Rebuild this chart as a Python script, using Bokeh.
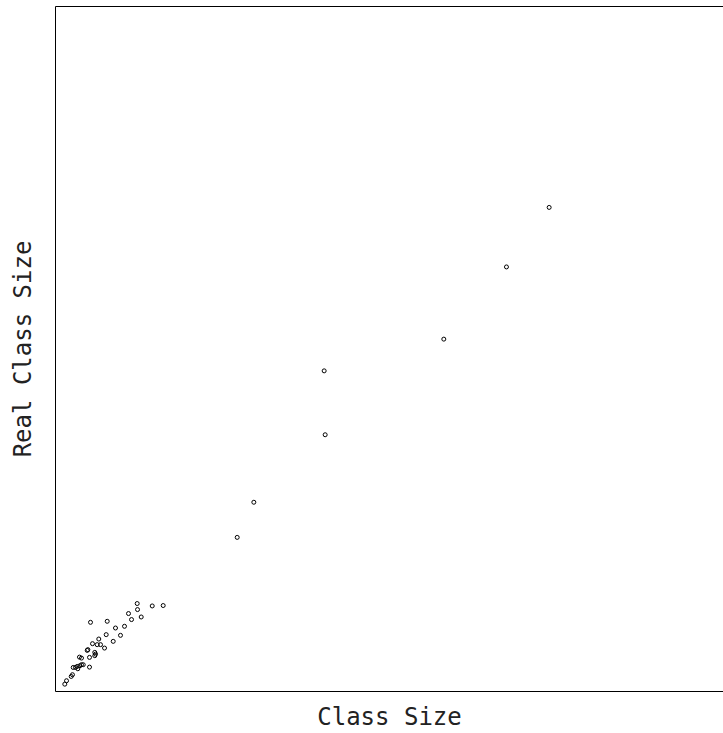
from bokeh.plotting import figure
from bokeh.models import Range1d, LinearAxis, FixedTicker
from bokeh.embed import file_html
from bokeh.resources import INLINE

# Data (arbitrary units, 0-100 frame scale)
class_size = [1.39, 1.65, 2.35, 2.54, 2.65, 2.99, 3.25, 3.34, 3.64, 3.89,
              4.15, 5.09, 3.59, 3.89, 4.75, 4.84, 5.09, 5.88, 5.88, 5.99,
              5.54, 6.24, 6.74, 6.48, 7.34, 7.59, 5.24, 7.74, 8.64, 8.98,
              9.73, 10.33, 10.93, 11.38, 12.23, 12.28, 12.83, 14.48, 16.12,
              27.2, 29.69, 40.22, 40.37, 58.13, 67.51, 73.9]
real_class_size = [1.07, 1.57, 2.20, 2.45, 3.51, 3.51, 3.66, 3.32, 3.76, 3.91,
                   3.91, 3.56, 5.02, 4.88, 6.00, 6.11, 4.98, 5.71, 5.23, 5.46,
                   6.98, 6.84, 6.84, 7.66, 6.34, 8.30, 10.10, 10.25, 7.32, 9.27,
                   8.20, 9.52, 11.38, 10.50, 12.84, 11.96, 10.88, 12.49, 12.55,
                   22.5, 27.63, 46.81, 37.48, 51.44, 61.98, 70.67]

x_label = "Class Size"
y_label = "Real Class Size"
x_max = 100
y_max = 100

p = figure(frame_width=668, frame_height=685,
           output_backend="svg", toolbar_location=None,
           x_range=Range1d(0, x_max), y_range=Range1d(0, y_max),
           min_border_left=55, min_border_right=0,
           min_border_top=6, min_border_bottom=42)

p.outline_line_color = None
p.xgrid.visible = False
p.ygrid.visible = False
p.background_fill_color = "white"
p.border_fill_color = "white"

font = "DejaVu Sans Mono"

for ax in (p.xaxis[0], p.yaxis[0]):
    ax.ticker = FixedTicker(ticks=[])
    ax.major_tick_out = 0
    ax.major_tick_in = 0
    ax.minor_tick_out = 0
    ax.minor_tick_in = 0
    ax.major_label_text_font_size = "0px"
    ax.axis_line_color = "black"
    ax.axis_line_width = 1
    ax.axis_label_text_font = font
    ax.axis_label_text_font_style = "normal"
    ax.axis_label_text_font_size = "24px"
    ax.axis_label_text_color = "#222222"

p.xaxis[0].axis_label = x_label
p.xaxis[0].axis_label_standoff = 11
p.yaxis[0].axis_label = y_label
p.yaxis[0].axis_label_standoff = 19

top = LinearAxis(ticker=FixedTicker(ticks=[]), major_tick_out=0, major_tick_in=0,
                 minor_tick_out=0, minor_tick_in=0,
                 major_label_text_font_size="0px",
                 axis_line_color="black", axis_line_width=1)
p.add_layout(top, "above")

p.scatter(class_size, real_class_size, marker="circle", size=4,
          fill_color=None, line_color="black", line_width=1)

open("out.html", "w").write(file_html(p, INLINE))
